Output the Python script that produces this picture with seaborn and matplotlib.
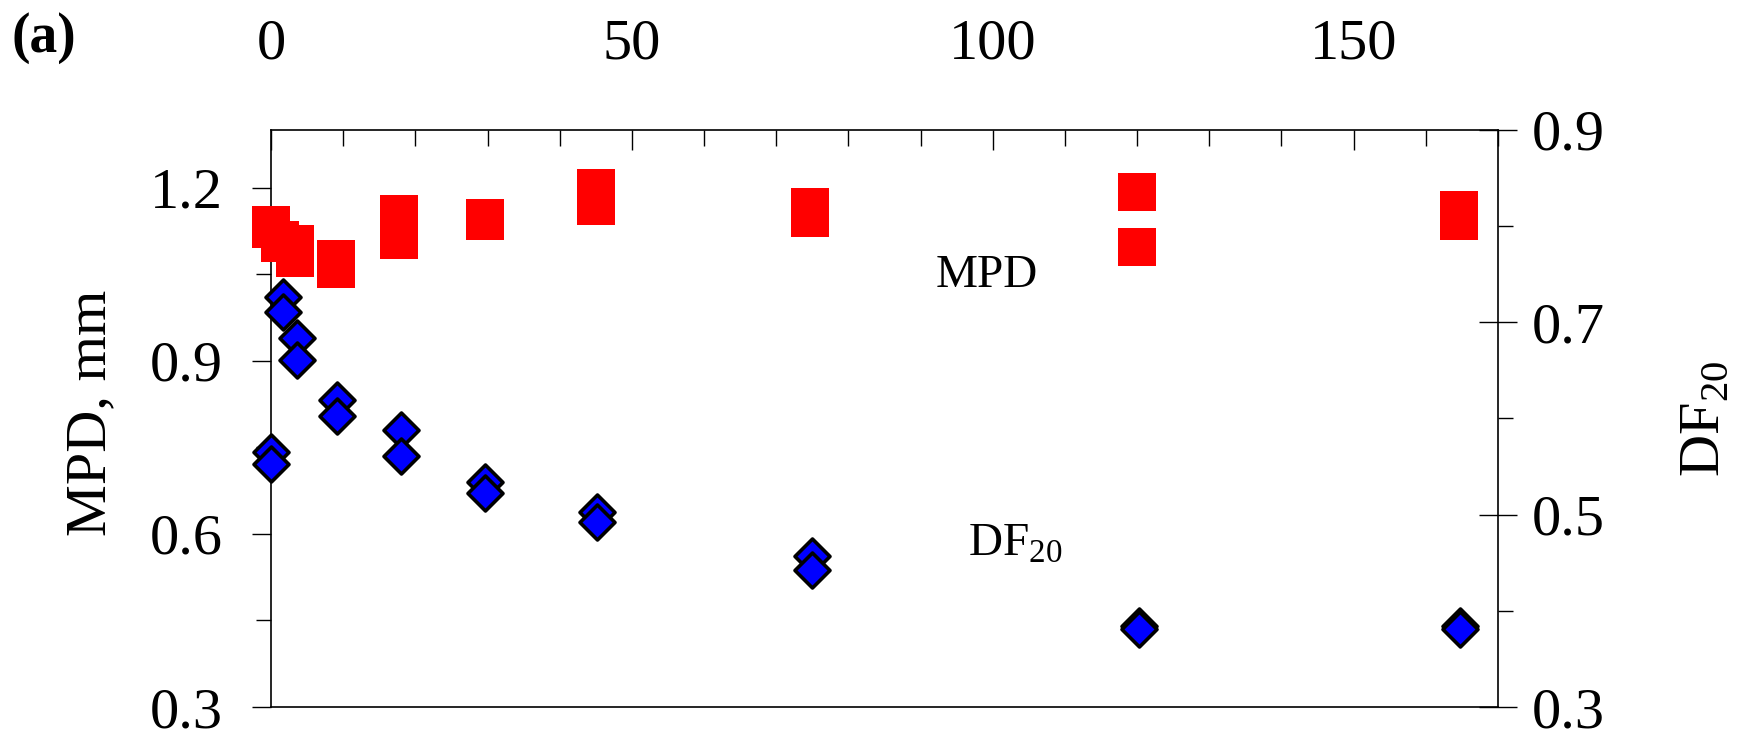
import matplotlib
matplotlib.use('Agg')
import matplotlib.pyplot as plt
from matplotlib.ticker import MultipleLocator
import seaborn as sns

# MPD, mm (red squares, left axis) - two repeats at each time
mpd_time = [0, 0, 1.3, 1.3, 3.3, 3.3, 9.0, 9.0, 17.7, 17.7,
            29.6, 29.6, 45.0, 45.0, 74.7, 74.7, 120.0, 120.0, 164.6, 164.6]
mpd_vals = [1.135, 1.128, 1.110, 1.104, 1.103, 1.078, 1.077, 1.059, 1.155, 1.110,
            1.148, 1.142, 1.200, 1.168, 1.167, 1.148, 1.193, 1.097, 1.161, 1.142]

# DF20 (blue diamonds, right axis)
df_time = [0, 0, 1.6, 1.6, 3.6, 3.6, 9.2, 9.2, 18.0, 18.0,
           29.7, 29.7, 45.2, 45.2, 75.0, 75.0, 120.2, 120.2, 164.8, 164.8]
df_vals = [0.565, 0.553, 0.726, 0.711, 0.684, 0.661, 0.619, 0.603, 0.588, 0.561,
           0.534, 0.523, 0.503, 0.492, 0.457, 0.442, 0.384, 0.381, 0.384, 0.381]

x_ticks = [0, 50, 100, 150]
mpd_ticks = [0.3, 0.6, 0.9, 1.2]
df_ticks = [0.3, 0.5, 0.7, 0.9]

sns.set_style('ticks')
plt.rcParams['font.family'] = ['Liberation Serif', 'DejaVu Serif']
plt.rcParams['mathtext.fontset'] = 'custom'
plt.rcParams['mathtext.rm'] = 'Liberation Serif'
for k in ('text.color', 'axes.labelcolor', 'xtick.color', 'ytick.color', 'axes.edgecolor'):
    plt.rcParams[k] = 'black'

fig = plt.figure(figsize=(17.47, 7.37), dpi=100)
ax = fig.add_axes([271 / 1747, 30 / 737, 1227 / 1747, 577 / 737])

sns.scatterplot(x=mpd_time, y=mpd_vals, marker='s', s=720, color='#ff0000',
                linewidth=0, ax=ax, zorder=3, clip_on=False)
ax2 = ax.twinx()
sns.scatterplot(x=df_time, y=df_vals, marker='D', s=317, color='#0000ff',
                edgecolor='black', linewidth=2.6, ax=ax2, zorder=3, clip_on=False)

# x axis on top
ax.xaxis.tick_top()
ax.set_xlim(0, 170)
ax.set_xticks(x_ticks)
ax.xaxis.set_minor_locator(MultipleLocator(10))
ax.tick_params(axis='x', which='major', direction='in', length=14.4, width=1,
               pad=43, labelsize=42, top=True, bottom=False)
ax.tick_params(axis='x', which='minor', direction='in', length=11.5, width=1,
               top=True, bottom=False)

# left axis
ax.set_ylim(0.3, 1.3)
ax.set_yticks(mpd_ticks)
ax.yaxis.set_minor_locator(MultipleLocator(0.15))
ax.tick_params(axis='y', which='major', direction='out', length=13.7, width=1,
               pad=21, labelsize=42)
ax.tick_params(axis='y', which='minor', direction='out', length=10.8, width=1)

# right axis
ax2.set_ylim(0.3, 0.9)
ax2.set_yticks(df_ticks)
ax2.yaxis.set_minor_locator(MultipleLocator(0.1))
ax2.tick_params(axis='y', which='major', direction='inout', length=27.4, width=1,
                pad=10.8, labelsize=42)
ax2.tick_params(axis='y', which='minor', direction='out', length=10.8, width=1)

ax.set_xlabel('')
ax.set_ylabel('MPD, mm', fontsize=42)
ax.yaxis.set_label_coords(-0.125, 0.509)
ax2.set_ylabel(r'DF$_{\mathrm{20}}$', fontsize=42)
ax2.yaxis.set_label_coords(1.147, 0.5)

for sp in ax.spines.values():
    sp.set_visible(True)
    sp.set_linewidth(1.2)
ax.spines['right'].set_visible(False)
for name, sp in ax2.spines.items():
    sp.set_visible(name == 'right')
    sp.set_linewidth(1.2)

ax.text(99.1, 1.028, 'MPD', ha='center', va='baseline', fontsize=34)
ax.text(103.1, 0.563, r'DF$_{\mathrm{20}}$', ha='center', va='baseline', fontsize=34)

fig.text(12 / 1747, 1 - 52 / 737, '(a)', fontweight='bold', fontsize=40,
         ha='left', va='baseline')

fig.savefig('out.png', dpi=100)
